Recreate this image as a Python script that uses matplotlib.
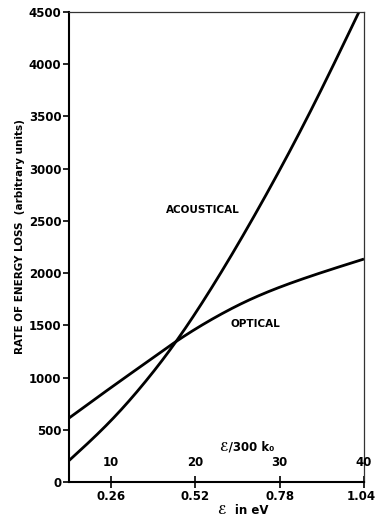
import matplotlib
matplotlib.use("Agg")
import matplotlib.pyplot as plt
from matplotlib.transforms import ScaledTranslation
import numpy as np

# Data (x in units of E/300k0)
acoustical_x = [5, 10, 14, 17.7, 22, 27.9, 33.9, 39.4]
acoustical_y = [205, 590, 955, 1345, 1870, 2680, 3590, 4500]
optical_x = [5, 10, 14, 17.7, 22, 26.3, 30, 34.2, 40]
optical_y = [612, 905, 1135, 1345, 1560, 1740, 1865, 1985, 2135]

x_ticks = [10, 20, 30, 40]
x_top_labels = ["10", "20", "30", "40"]
x_ev_labels = ["0.26", "0.52", "0.78", "1.04"]
y_ticks = [0, 500, 1000, 1500, 2000, 2500, 3000, 3500, 4000, 4500]

plt.rcParams['font.family'] = ['DejaVu Sans']

W, H = 377, 520
fig = plt.figure(figsize=(W / 100, H / 100), dpi=100)
ax = fig.add_axes([69 / W, 1 - 482 / H, (364 - 69) / W, (482 - 12) / H])


def spline(xs, ys, n=300):
    """Natural cubic spline through the read points (for a smooth pen line)."""
    xs = np.asarray(xs, float)
    ys = np.asarray(ys, float)
    k = len(xs)
    h = np.diff(xs)
    A = np.zeros((k, k))
    b = np.zeros(k)
    A[0, 0] = A[-1, -1] = 1.0
    for i in range(1, k - 1):
        A[i, i - 1] = h[i - 1]
        A[i, i] = 2 * (h[i - 1] + h[i])
        A[i, i + 1] = h[i]
        b[i] = 6 * ((ys[i + 1] - ys[i]) / h[i] - (ys[i] - ys[i - 1]) / h[i - 1])
    M = np.linalg.solve(A, b)
    xx = np.linspace(xs[0], xs[-1], n)
    idx = np.clip(np.searchsorted(xs, xx) - 1, 0, k - 2)
    x0, x1 = xs[idx], xs[idx + 1]
    hh = h[idx]
    yy = (M[idx] * (x1 - xx) ** 3 / (6 * hh) + M[idx + 1] * (xx - x0) ** 3 / (6 * hh)
          + (ys[idx] / hh - M[idx] * hh / 6) * (x1 - xx)
          + (ys[idx + 1] / hh - M[idx + 1] * hh / 6) * (xx - x0))
    return xx, yy


ac_x, ac_y = spline(acoustical_x, acoustical_y)
op_x, op_y = spline(optical_x, optical_y)
ax.plot(ac_x, ac_y, color='black', lw=2.0, solid_capstyle='butt')
ax.plot(op_x, op_y, color='black', lw=2.0, solid_capstyle='butt')

ax.set_xlim(5, 40)
ax.set_ylim(0, 4500)

ax.set_yticks(y_ticks)
ax.set_yticklabels([str(v) for v in y_ticks], fontsize=8.5, fontweight='bold')
ax.set_xticks(x_ticks)
ax.set_xticklabels(x_ev_labels, fontsize=8.5, fontweight='bold')
ax.tick_params(axis='y', direction='out', length=4, width=1.2, pad=1.5)
ax.tick_params(axis='x', direction='inout', length=8, width=1.2, pad=2)
# nudge the last eV label so it stays inside the picture
last = ax.get_xticklabels()[-1]
last.set_transform(last.get_transform() + ScaledTranslation(-2.5 / 100, 0, fig.dpi_scale_trans))

for s in ['left', 'bottom']:
    ax.spines[s].set_linewidth(1.5)
for s in ['top', 'right']:
    ax.spines[s].set_linewidth(0.9)
    ax.spines[s].set_color('#333333')

# inner scale labels (E/300k0)
for xv, lab in zip(x_ticks, x_top_labels):
    ax.annotate(lab, xy=(xv, 0), xytext=(0, 9), textcoords='offset points',
                ha='center', va='bottom', fontsize=8.5, fontweight='bold')

fig.text(247 / W, 1 - 447 / H, "ℰ/300 k₀", ha='center', va='center',
         fontsize=8.5, fontweight='bold')
fig.text(243 / W, 1 - 510 / H, "ℰ  in eV", ha='center', va='center',
         fontsize=8.5, fontweight='bold')

fig.text(20 / W, 1 - 237 / H, "RATE OF ENERGY LOSS  (arbitrary units)",
         rotation=90, ha='center', va='center', fontsize=7.5, fontweight='bold')

fig.text(203 / W, 1 - 210 / H, "ACOUSTICAL", ha='center', va='center',
         fontsize=7.5, fontweight='bold')
fig.text(255 / W, 1 - 324 / H, "OPTICAL", ha='center', va='center',
         fontsize=7.5, fontweight='bold')

fig.savefig("out.png", dpi=100)
